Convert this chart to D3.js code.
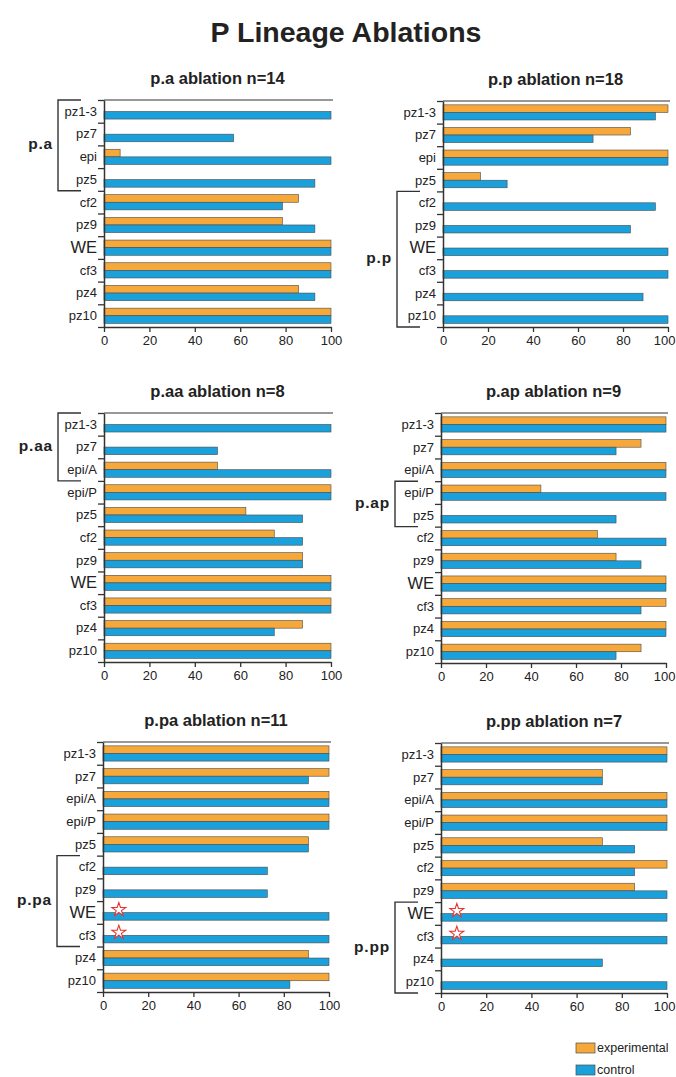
<!DOCTYPE html>
<html>
<head>
<meta charset="utf-8">
<script src="https://cdn.jsdelivr.net/npm/d3@7/dist/d3.min.js"></script>
<style>
  html, body { margin: 0; padding: 0; background: #fff; }
  svg { display: block; }
  text { font-family: "Liberation Sans", Arial, Helvetica, sans-serif; fill: #222; }
</style>
</head>
<body>
<svg id="chart" width="676" height="1077"></svg>
<script>
// ---------- data ----------
const mainTitle = "P Lineage Ablations";
const cats10 = ["pz1-3", "pz7", "epi", "pz5", "cf2", "pz9", "WE", "cf3", "pz4", "pz10"];
const cats11 = ["pz1-3", "pz7", "epi/A", "epi/P", "pz5", "cf2", "pz9", "WE", "cf3", "pz4", "pz10"];
const xTicks = [0, 20, 40, 60, 80, 100];
const seriesNames = ["experimental", "control"];

const paTitle = "p.a ablation n=14";
const paExp  = [0, 0, 7.1, 0, 85.7, 78.6, 100, 100, 85.7, 100];
const paCtrl = [100, 57.1, 100, 92.9, 78.6, 92.9, 100, 100, 92.9, 100];

const ppTitle = "p.p ablation n=18";
const ppExp  = [100, 83.3, 100, 16.7, 0, 0, 0, 0, 0, 0];
const ppCtrl = [94.4, 66.7, 100, 28.5, 94.4, 83.3, 100, 100, 88.9, 100];

const paaTitle = "p.aa ablation n=8";
const paaExp  = [0, 0, 50, 100, 62.5, 75, 87.5, 100, 100, 87.5, 100];
const paaCtrl = [100, 50, 100, 100, 87.5, 87.5, 87.5, 100, 100, 75, 100];

const papTitle = "p.ap ablation n=9";
const papExp  = [100, 88.9, 100, 44.4, 0, 69.5, 77.8, 100, 100, 100, 88.9];
const papCtrl = [100, 77.8, 100, 100, 77.8, 100, 88.9, 100, 88.9, 100, 77.8];

const ppaTitle = "p.pa ablation n=11";
const ppaExp  = [100, 100, 100, 100, 90.9, 0, 0, 0, 0, 90.9, 100];
const ppaCtrl = [100, 90.9, 100, 100, 90.9, 72.7, 72.7, 100, 100, 100, 82.7];

const pppTitle = "p.pp ablation n=7";
const pppExp  = [100, 71.4, 100, 100, 71.4, 100, 85.7, 0, 0, 0, 0];
const pppCtrl = [100, 71.4, 100, 100, 85.7, 85.7, 100, 100, 100, 71.4, 100];

// brackets: [label, first row, last row + 1]
const paBracket  = ["p.a", 0, 4];
const ppBracket  = ["p.p", 4, 10];
const paaBracket = ["p.aa", 0, 3];
const papBracket = ["p.ap", 3, 5];
const ppaBracket = ["p.pa", 5, 9];
const pppBracket = ["p.pp", 7, 11];

// rows marked with a star (experimental not scored)
const ppaStars = ["WE", "cf3"];
const pppStars = ["WE", "cf3"];
const starValue = 7;

// ---------- styling / layout ----------
const ORANGE = "#f6a93a";
const BLUE = "#1aa1dc";
const OUTLINE = "#4a4a4a";
const AXIS = "#333";
const W = 676;

const svg = d3.select("#chart");

svg.append("text")
  .attr("x", 346).attr("y", 42)
  .attr("text-anchor", "middle")
  .style("font-size", "28.5px").style("font-weight", "bold")
  .text(mainTitle);

const panels = [
  { title: paTitle,  cats: cats10, exp: paExp,  ctrl: paCtrl,  bracket: paBracket,  stars: [], x0: 104, x1: 331, y0: 100, y1: 327 },
  { title: ppTitle,  cats: cats10, exp: ppExp,  ctrl: ppCtrl,  bracket: ppBracket,  stars: [], x0: 443, x1: 668, y0: 101, y1: 327 },
  { title: paaTitle, cats: cats11, exp: paaExp, ctrl: paaCtrl, bracket: paaBracket, stars: [], x0: 104, x1: 331, y0: 413, y1: 662 },
  { title: papTitle, cats: cats11, exp: papExp, ctrl: papCtrl, bracket: papBracket, stars: [], x0: 441, x1: 666, y0: 413, y1: 663 },
  { title: ppaTitle, cats: cats11, exp: ppaExp, ctrl: ppaCtrl, bracket: ppaBracket, stars: ppaStars, x0: 103, x1: 329, y0: 742, y1: 992 },
  { title: pppTitle, cats: cats11, exp: pppExp, ctrl: pppCtrl, bracket: pppBracket, stars: pppStars, x0: 441, x1: 667, y0: 743, y1: 993 }
];

const star = d3.symbol().type(d3.symbolStar).size(60);

panels.forEach(p => {
  const g = svg.append("g");
  const x = d3.scaleLinear().domain([0, 100]).range([p.x0, p.x1]);
  const y = d3.scaleBand().domain(p.cats).range([p.y0, p.y1]).paddingInner(0).paddingOuter(0);
  const yi = d3.scaleLinear().domain([0, p.cats.length]).range([p.y0, p.y1]);
  const bw = y.bandwidth();
  const barH = bw * 0.335;
  const off = bw * 0.17;

  // title
  g.append("text")
    .attr("x", (p.x0 + p.x1) / 2).attr("y", p.y0 - 16)
    .attr("text-anchor", "middle")
    .style("font-size", "16.5px").style("font-weight", "bold")
    .text(p.title);

  // bars
  const rows = p.cats.map((c, i) => ({ cat: c, exp: p.exp[i], ctrl: p.ctrl[i] }));
  g.selectAll(".exp").data(rows.filter(d => d.exp > 0)).join("rect")
    .attr("x", x(0)).attr("y", d => y(d.cat) + off)
    .attr("width", d => x(d.exp) - x(0)).attr("height", barH)
    .attr("fill", ORANGE).attr("stroke", OUTLINE).attr("stroke-width", 0.6);
  g.selectAll(".ctrl").data(rows.filter(d => d.ctrl > 0)).join("rect")
    .attr("x", x(0)).attr("y", d => y(d.cat) + off + barH)
    .attr("width", d => x(d.ctrl) - x(0)).attr("height", barH)
    .attr("fill", BLUE).attr("stroke", OUTLINE).attr("stroke-width", 0.6);

  // stars
  g.selectAll(".star").data(p.stars).join("path")
    .attr("d", star)
    .attr("transform", d => `translate(${x(starValue)},${y(d) + off + barH / 2 + 1})`)
    .attr("fill", "#fff").attr("stroke", "#e8322b").attr("stroke-width", 1.1);

  // top line
  g.append("line")
    .attr("x1", p.x0).attr("x2", p.x1 + 2)
    .attr("y1", p.y0).attr("y2", p.y0)
    .attr("stroke", AXIS).attr("stroke-width", 1.2);

  // x axis
  const xa = g.append("g").attr("transform", `translate(0,${p.y1})`)
    .call(d3.axisBottom(x).tickValues(xTicks).tickSize(5).tickSizeOuter(0).tickPadding(4));
  xa.select(".domain").attr("stroke", AXIS).attr("stroke-width", 1.5);
  xa.selectAll(".tick line").attr("stroke", AXIS).attr("stroke-width", 1.3);
  xa.selectAll(".tick text").style("font-size", "13px")
    .style("font-family", "'Liberation Sans', Arial, sans-serif").attr("fill", "#222");
  // keep the last label inside the page on the right-hand panels
  xa.selectAll(".tick text").filter(d => d === 100 && x(100) + 12 > W)
    .attr("text-anchor", "end").attr("dx", W - 1 - x(100));

  // y axis (boundary ticks)
  const ya = g.append("g").attr("transform", `translate(${p.x0},0)`)
    .call(d3.axisLeft(yi).tickValues(d3.range(p.cats.length + 1)).tickFormat("").tickSize(6).tickSizeOuter(0));
  ya.select(".domain").attr("stroke", AXIS).attr("stroke-width", 1.5);
  ya.selectAll(".tick line").attr("stroke", AXIS).attr("stroke-width", 1.3);

  // category labels
  g.selectAll(".cat").data(p.cats).join("text")
    .attr("x", p.x0 - 7)
    .attr("y", d => y(d) + bw / 2 + 1)
    .attr("text-anchor", "end")
    .attr("dominant-baseline", "middle")
    .style("font-size", d => d === "WE" ? "16.5px" : "13px")
    .text(d => d);

  // bracket
  const [bl, ba, bb] = p.bracket;
  const xb = p.x0 - 46;
  const ya0 = yi(ba), yb0 = yi(bb);
  g.append("path")
    .attr("d", `M${xb + 23},${ya0}H${xb}V${yb0}H${xb + 23}`)
    .attr("fill", "none").attr("stroke", AXIS).attr("stroke-width", 1.4);
  g.append("text")
    .attr("x", xb - 5).attr("y", (ya0 + yb0) / 2)
    .attr("text-anchor", "end").attr("dominant-baseline", "middle")
    .style("font-size", "15.5px").style("font-weight", "bold")
    .style("letter-spacing", "0.8px")
    .text(bl);
});

// legend
const legend = svg.append("g");
const colors = [ORANGE, BLUE];
seriesNames.forEach((s, i) => {
  const yy = 1048 + i * 22;
  legend.append("rect")
    .attr("x", 576).attr("y", yy - 5).attr("width", 19).attr("height", 10)
    .attr("fill", colors[i]).attr("stroke", OUTLINE).attr("stroke-width", 0.7);
  legend.append("text")
    .attr("x", 597).attr("y", yy + 0.5)
    .attr("dominant-baseline", "middle")
    .style("font-size", "12.5px")
    .text(s);
});
</script>
</body>
</html>
